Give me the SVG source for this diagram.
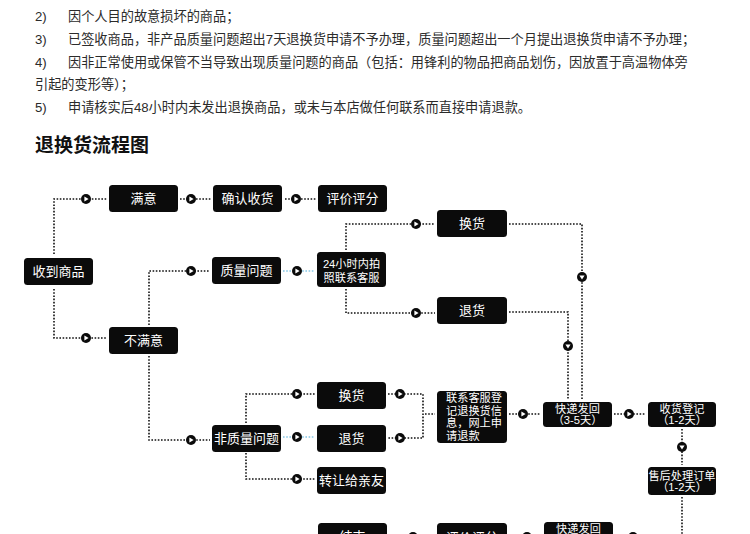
<svg xmlns="http://www.w3.org/2000/svg" width="750" height="534" viewBox="0 0 750 534">
<style>
.t{font-family:"Liberation Sans","Noto Sans CJK SC",sans-serif;font-size:13.2px;fill:#2b2b2b}
.title{font-family:"Noto Sans CJK SC",sans-serif;font-size:19px;font-weight:bold;fill:#111}
.box{fill:#0b0b0b}
.lb{font-family:"Liberation Sans","Noto Sans CJK SC",sans-serif;font-size:13px;fill:#fff;text-anchor:middle}
.sm{font-family:"Liberation Sans","Noto Sans CJK SC",sans-serif;font-size:11.2px;fill:#fff;text-anchor:middle}
.sl{font-family:"Liberation Sans","Noto Sans CJK SC",sans-serif;font-size:11.2px;fill:#fff}
.c{fill:none;stroke:#111;stroke-width:1.6;stroke-dasharray:1.6 1.6}
.cb{fill:none;stroke:#86c8e6;stroke-width:1.6;stroke-dasharray:1.6 1.6}
</style>
<defs>
<g id="ar"><circle r="5" fill="#0b0b0b"/><polygon points="-1.6,-2.6 2.6,0 -1.6,2.6" fill="#fff"/></g>
<g id="ad"><circle r="5" fill="#0b0b0b"/><polygon points="-2.6,-1.6 2.6,-1.6 0,2.6" fill="#fff"/></g>
<g id="al"><circle r="5" fill="#0b0b0b"/><polygon points="1.6,-2.6 -2.6,0 1.6,2.6" fill="#fff"/></g>
</defs>
<rect width="750" height="534" fill="#fff"/>
<g id="notes">
<text class="t" x="35" y="21">2)</text><text class="t" x="68" y="21">因个人目的故意损坏的商品；</text>
<text class="t" x="35" y="44">3)</text><text class="t" x="68" y="44">已签收商品，非产品质量问题超出7天退换货申请不予办理，质量问题超出一个月提出退换货申请不予办理；</text>
<text class="t" x="35" y="67">4)</text><text class="t" x="68" y="67">因非正常使用或保管不当导致出现质量问题的商品（包括：用锋利的物品把商品划伤，因放置于高温物体旁</text>
<text class="t" x="35" y="89">引起的变形等）；</text>
<text class="t" x="35" y="112">5)</text><text class="t" x="68" y="112">申请核实后48小时内未发出退换商品，或未与本店做任何联系而直接申请退款。</text>
<text class="title" x="35" y="152">退换货流程图</text>
</g>
<g id="connectors">
<path class="c" d="M54,254 V199 H107"/><use href="#ar" x="86" y="199"/>
<path class="c" d="M180,199 H211"/><use href="#ar" x="191" y="199"/>
<path class="c" d="M285,199 H316"/><use href="#ar" x="296" y="199"/>
<path class="c" d="M54,289 V338 H107"/><use href="#ar" x="86" y="338"/>
<path class="c" d="M149,325 V271 H210"/><use href="#ar" x="191" y="271"/>
<path class="c" d="M149,356 V440 H210"/><use href="#ar" x="191" y="440"/>
<path class="cb" d="M283,271 H315"/><use href="#ar" x="297" y="271"/>
<path class="c" d="M346,250 V224 H435"/><use href="#ar" x="416" y="224"/>
<path class="c" d="M346,289 V313 H435"/><use href="#ar" x="416" y="313"/>
<path class="c" d="M509,224 H582 V400"/><use href="#ad" x="582" y="277"/>
<path class="c" d="M509,312 H568 V400"/><use href="#ad" x="568" y="346"/>
<path class="c" d="M246,423 V394 H315"/><use href="#ar" x="297" y="394"/>
<path class="cb" d="M283,437 H315"/><use href="#ar" x="297" y="437"/>
<path class="c" d="M246,453 V479 H315"/><use href="#ar" x="297" y="479"/>
<path class="c" d="M388,394 H423 V438 H388"/><use href="#ar" x="400" y="394"/><use href="#ar" x="400" y="438"/>
<path class="c" d="M425,414 H435"/>
<path class="c" d="M509,414 H541"/><use href="#ar" x="523" y="414"/>
<path class="c" d="M614,414 H646"/><use href="#ar" x="629" y="414"/>
<path class="c" d="M682,429 V465"/><use href="#ad" x="682" y="447"/>
<path class="c" d="M682,497 V537 H615"/><use href="#al" x="633" y="537"/>
<path class="c" d="M542,537 H509"/><use href="#al" x="527" y="537"/>
<path class="c" d="M435,537 H389"/><use href="#al" x="413" y="537"/>
</g>
<g id="n-received"><rect class="box" x="24" y="258" width="69" height="27" rx="3.5"/><text class="lb" x="58.5" y="276">收到商品</text></g>
<g id="n-satisfied"><rect class="box" x="109" y="185" width="69" height="27" rx="3.5"/><text class="lb" x="143.5" y="203">满意</text></g>
<g id="n-confirm"><rect class="box" x="213" y="185" width="69" height="27" rx="3.5"/><text class="lb" x="247.5" y="203">确认收货</text></g>
<g id="n-review1"><rect class="box" x="318" y="185" width="69" height="27" rx="3.5"/><text class="lb" x="352.5" y="203">评价评分</text></g>
<g id="n-quality"><rect class="box" x="212" y="257" width="69" height="27" rx="3.5"/><text class="lb" x="246.5" y="275">质量问题</text></g>
<g id="n-photo"><rect class="box" x="317" y="252" width="69" height="35" rx="3.5"/><text class="sm" x="351.5" y="268">24小时内拍</text><text class="sm" x="351.5" y="282">照联系客服</text></g>
<g id="n-exchange1"><rect class="box" x="437" y="210" width="70" height="27" rx="3.5"/><text class="lb" x="472" y="228">换货</text></g>
<g id="n-return1"><rect class="box" x="437" y="297" width="70" height="27" rx="3.5"/><text class="lb" x="472" y="315">退货</text></g>
<g id="n-unsatisfied"><rect class="box" x="109" y="327" width="69" height="27" rx="3.5"/><text class="lb" x="143.5" y="345">不满意</text></g>
<g id="n-nonquality"><rect class="box" x="212" y="425" width="69" height="27" rx="3.5"/><text class="lb" x="246.5" y="443">非质量问题</text></g>
<g id="n-exchange2"><rect class="box" x="317" y="382" width="69" height="27" rx="3.5"/><text class="lb" x="351.5" y="400">换货</text></g>
<g id="n-return2"><rect class="box" x="317" y="425" width="69" height="27" rx="3.5"/><text class="lb" x="351.5" y="443">退货</text></g>
<g id="n-transfer"><rect class="box" x="317" y="467" width="69" height="27" rx="3.5"/><text class="lb" x="351.5" y="485">转让给亲友</text></g>
<g id="n-contact"><rect class="box" x="437" y="391" width="70" height="52" rx="3.5"/><text class="sl" x="446" y="402">联系客服登</text><text class="sl" x="446" y="415">记退换货信</text><text class="sl" x="446" y="427">息，网上申</text><text class="sl" x="446" y="440">请退款</text></g>
<g id="n-ship1"><rect class="box" x="543" y="402" width="69" height="25" rx="3.5"/><text class="sm" x="577.5" y="413">快递发回</text><text class="sm" x="577.5" y="424">（3-5天）</text></g>
<g id="n-receive"><rect class="box" x="648" y="402" width="68" height="25" rx="3.5"/><text class="sm" x="682" y="413">收货登记</text><text class="sm" x="682" y="424">（1-2天）</text></g>
<g id="n-process"><rect class="box" x="648" y="467" width="68" height="28" rx="3.5"/><text class="sm" x="682" y="480">售后处理订单</text><text class="sm" x="682" y="491">（1-2天）</text></g>
<g id="n-end"><rect class="box" x="318" y="523" width="69" height="27" rx="3.5"/><text class="lb" x="352.5" y="541">结束</text></g>
<g id="n-review2"><rect class="box" x="437" y="523" width="70" height="27" rx="3.5"/><text class="lb" x="472" y="542">评价评分</text></g>
<g id="n-ship2"><rect class="box" x="544" y="522" width="69" height="27" rx="3.5"/><text class="sm" x="578.5" y="533">快递发回</text><text class="sm" x="578.5" y="544">（3-5天）</text></g>
</svg>
